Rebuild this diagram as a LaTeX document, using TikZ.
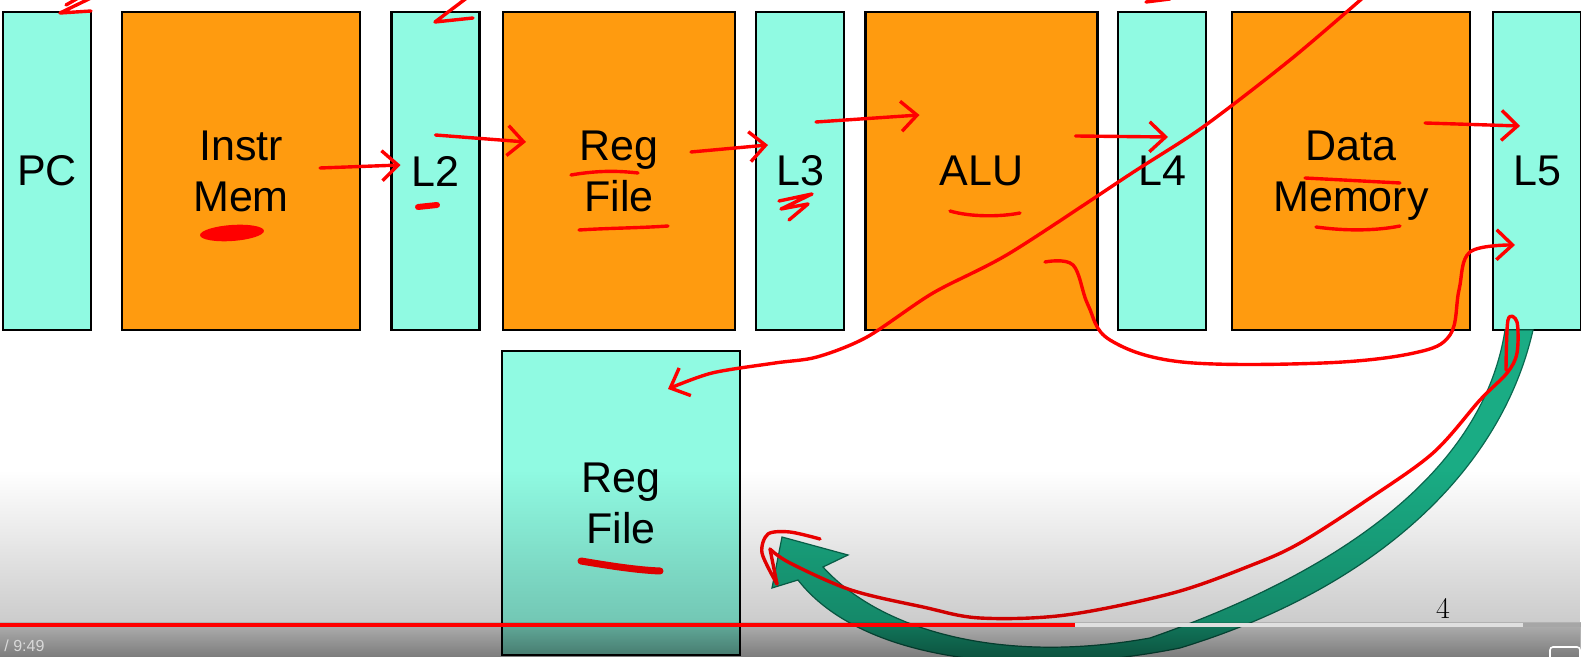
\documentclass[tikz,border=0pt]{standalone}
\usepackage{fontspec}
\newfontfamily\slidefont{Liberation Sans}
\usetikzlibrary{positioning, calc, arrows.meta, fadings}

\definecolor{latchcyan}{RGB}{144,250,226}
\definecolor{stageorange}{RGB}{255,155,15}
\definecolor{wbgreen}{RGB}{26,172,132}
\definecolor{wbgreendark}{RGB}{10,105,80}

\tikzfading[name=fadedown, top color=transparent!100, bottom color=transparent!0]

\tikzset{
    latch/.style={draw=black, line width=1.2pt, fill=latchcyan, inner sep=0pt, outer sep=0pt,
        minimum width=44pt, minimum height=159pt, align=center,
        font={\slidefont\fontsize{21.5}{25.5}\selectfont}},
    stagebox/.style={latch, fill=stageorange, minimum width=116pt},
    redink/.style={draw=red, line width=1.7pt, line cap=round, line join=round},
    inkarrow/.style={redink, -{Straight Barb[length=8pt,width=15pt]}}
}

\begin{document}
\begin{tikzpicture}[x=0.5pt, y=-0.5pt]
    \useasboundingbox (0,0) rectangle (1581,657);
    \fill[white] (0,0) rectangle (1581,657);

    % Pipeline stages and latches
    \node[latch] (pc) at (47,171) {PC};
    \node[stagebox, minimum width=119pt] (imem) at (241,171) {Instr\\Mem};
    \node[latch] (l2) at (435.5,171) {L2};
    \node[stagebox] (rf) at (619,171) {Reg\\File};
    \node[latch] (l3) at (800,171) {L3};
    \node[stagebox] (alu) at (981.5,171) {ALU};
    \node[latch] (l4) at (1162,171) {L4};
    \node[stagebox, minimum width=119pt, text depth=-3.5pt] (dmem) at (1351,171) {Data\\Memory};
    \node[latch] (l5) at (1537,171) {L5};

    % Register file, write side
    \node[latch, minimum width=119pt, minimum height=152pt] (rfw) at (621,503) {Reg\\File};

    % Write-back arrow
    \filldraw[fill=wbgreen, draw=wbgreendark, line width=0.6pt]
        (1505,330) .. controls (1485,460) and (1360,565) .. (1150,638)
        .. controls (1000,665) and (880,630) .. (823,567)
        -- (848,555) -- (782,537) -- (772,588) -- (798,580)
        .. controls (860,660) and (1020,680) .. (1180,648)
        .. controls (1370,590) and (1500,475) .. (1533,330) -- cycle;

    % Slide number
    \node[font=\fontsize{15}{18}\selectfont] (pagenum) at (1443,608) {4};

    % Red ink: flow through the stages
    \draw[inkarrow] ($(imem.east)+(-40,-3)$) -- ($(l2.west)+(9,-6)$);
    \draw[inkarrow] ($(l2.east)+(-44,-36)$) -- ($(rf.west)+(23,-29)$);
    \draw[inkarrow] ($(rf.east)+(-44,-19)$) -- ($(l3.west)+(12,-26)$);
    \draw[inkarrow] ($(l3.east)+(-28,-49)$) -- ($(alu.west)+(54,-56)$);
    \draw[inkarrow] ($(alu.east)+(-22,-35)$) -- ($(l4.west)+(50,-34)$);
    \draw[inkarrow] ($(dmem.east)+(-45,-48)$) -- ($(l5.west)+(27,-45)$);
    \draw[inkarrow] plot[smooth, tension=0.6] coordinates {(1045,262) (1073,265) (1088,305) (1110,340)
        (1182,362) (1323,363) (1414,353) (1450,335) (1459,290) (1470,252) (1515,245)};
    \draw[inkarrow] plot[smooth] coordinates {(1365,-4) (1290,60) (1203,127) (1132,173) (1010,253)
        (933,293) (867,337) (817,357) (775,363) (712,373) (668,389)};
    \draw[redink] plot[smooth, tension=0.55] coordinates {(1506,370) (1508,320) (1517,322) (1517,353)
        (1507,373) (1480,400) (1433,453) (1367,500) (1300,543) (1252,565) (1173,593) (1066,615)
        (980,618) (923,607) (851,590) (790,563) (770,549)};
    \draw[redink] (770,549) -- (777,584);
    \draw[redink] plot[smooth] coordinates {(777,584) (762,553) (768,534) (790,532) (820,539)};

    % Red ink: strokes at the top edge
    \draw[redink] (93,-3) -- (60,13) -- (91,11);
    \draw[redink] (80,-3) -- (66,5);
    \draw[redink] (468,-3) -- (435,22) -- (473,18);
    \draw[redink] (1146,2) -- (1170,-1);

    % Red ink: underlines
    \fill[red, rotate around={4:(232,233)}] (232,233) ellipse (32 and 8);
    \draw[redink, line width=3pt] (418,207) -- (437,205);
    \draw[redink] (779,201) -- (812,194) -- (781,209) -- (808,204) -- (789,220);
    \draw[redink] (571,175) .. controls (600,170) and (620,171) .. (638,173);
    \draw[redink] (579,230) .. controls (610,228) and (640,228) .. (668,226);
    \draw[redink] (950,211) .. controls (970,217) and (1000,217) .. (1020,213);
    \draw[redink] (1305,178) -- (1400,183);
    \draw[redink] (1316,227) .. controls (1345,231) and (1375,231) .. (1400,226);
    \draw[redink, line width=3.5pt] (581,561) .. controls (605,565) and (635,570) .. (660,571);

    % Player overlay
    \fill[black, opacity=0.2, path fading=fadedown] (0,470) rectangle (1581,622);
    \fill[black, opacity=0.3] (0,622) rectangle (1581,657);
    \fill[black, opacity=0.3, path fading=fadedown] (0,622) rectangle (1581,657);
    \draw[red, line width=2.4pt] (0,625) -- (1075,625);
    \draw[white!88!black, line width=2.4pt] (1075,625) -- (1523,625);
    \draw[white!65!black, line width=2.4pt] (1523,625) -- (1581,625);
    \node[anchor=north west, inner sep=0pt, text=white!85!black,
        font={\slidefont\fontsize{8}{10}\selectfont}] (timer) at (4,640) {/ 9:49};
    \draw[white, line width=0.8pt, rounded corners=1.5pt] (1550,647) rectangle (1580,672);
\end{tikzpicture}
\end{document}
